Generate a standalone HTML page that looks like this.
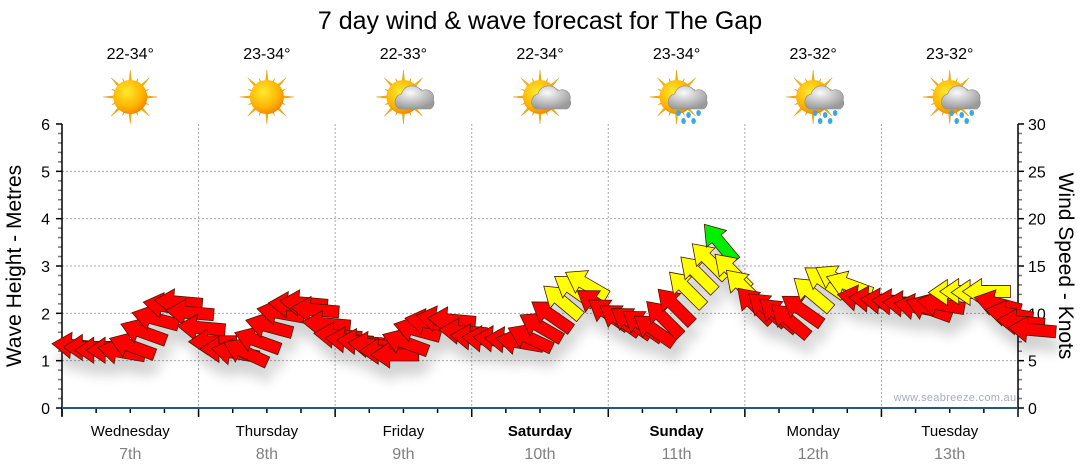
<!DOCTYPE html>
<html><head><meta charset="utf-8">
<style>
html,body{margin:0;padding:0;background:#fff;}
svg{display:block;font-family:"Liberation Sans",sans-serif;}
</style></head>
<body>
<svg id="chart" width="1080" height="475" viewBox="0 0 1080 475" xmlns="http://www.w3.org/2000/svg">
<defs>
<radialGradient id="sunG" cx="40%" cy="35%" r="65%"><stop offset="0" stop-color="#ffe930"/><stop offset="0.7" stop-color="#ffb400"/><stop offset="1" stop-color="#f08c00"/></radialGradient>
<radialGradient id="cloudG" cx="40%" cy="30%" r="70%"><stop offset="0" stop-color="#fafafa"/><stop offset="1" stop-color="#9a9a9a"/></radialGradient>
<filter id="shadow" x="-30%" y="-30%" width="160%" height="200%"><feGaussianBlur in="SourceAlpha" stdDeviation="6"/><feOffset dx="4" dy="14"/><feComponentTransfer><feFuncA type="linear" slope="0.18"/></feComponentTransfer><feMerge><feMergeNode/><feMergeNode in="SourceGraphic"/></feMerge></filter>
</defs>
<text x="540" y="29" font-size="25" text-anchor="middle" fill="#000">7 day wind &amp; wave forecast for The Gap</text>
<g id="grid"></g>
<g id="axes"></g>
<g id="icons"></g>
<text x="955" y="401" font-size="11" fill="#a8adbb" text-anchor="middle" letter-spacing="0.3">www.seabreeze.com.au</text>
<g id="arrows" filter="url(#shadow)"></g>
<text transform="translate(21,266) rotate(-90)" font-size="21" text-anchor="middle">Wave Height - Metres</text>
<text transform="translate(1059,266) rotate(90)" font-size="21" text-anchor="middle">Wind Speed - Knots</text>
</svg>
<script>
const days = ["Wednesday","Thursday","Friday","Saturday","Sunday","Monday","Tuesday"];
const dates = ["7th","8th","9th","10th","11th","12th","13th"];
const boldDays = [false,false,false,true,true,false,false];
const temps = ["22-34°","23-34°","22-33°","22-34°","23-34°","23-32°","23-32°"];
const weather = ["sun","sun","cloud","cloud","rain","rain","rain"];
const waveTicks = [0,1,2,3,4,5,6];
const windTicks = [0,5,10,15,20,25,30];
// wind speed (knots), 2-hourly
const windSpeed = [6.7,6.4,6.1,6.1,6.2,7.0,8.5,9.8,11.0,11.3,10.2,8.6,
 7.0,6.2,6.1,6.5,7.6,9.0,10.3,11.0,11.2,10.5,9.0,7.8,
 7.3,7.1,6.8,6.0,5.6,7.4,8.6,9.3,9.6,9.4,8.2,7.6,
 7.4,7.4,7.3,7.2,8.0,9.3,10.6,12.2,13.3,13.8,11.8,10.8,
 10.2,9.9,9.6,9.1,10.5,11.8,13.6,15.2,16.6,18.6,15.5,13.8,
 11.9,11.4,10.8,10.2,11.2,13.0,14.2,14.3,13.5,11.8,11.6,11.4,
 11.3,11.1,10.9,11.0,11.2,12.2,12.3,12.2,12.3,11.4,10.2,9.2,8.4];
// wind direction (compass degrees, blowing from)
const windDir = [95,90,90,90,100,110,110,105,100,95,95,95,
 90,90,100,115,110,105,100,95,95,95,95,95,
 95,95,95,90,90,110,105,100,100,95,95,95,
 95,95,95,100,115,120,125,130,125,120,125,125,
 125,125,125,125,135,135,135,135,135,140,135,135,
 135,130,130,130,125,130,125,120,110,100,95,95,
 95,95,100,110,100,90,90,90,90,105,100,95,95];

const X0=62, X1=1018, Y0=408, Y1=124;
const dayW=(X1-X0)/7;
const NS="http://www.w3.org/2000/svg";
function el(tag,attrs,parent){const e=document.createElementNS(NS,tag);for(const k in attrs)e.setAttribute(k,attrs[k]);parent.appendChild(e);return e;}
function xDay(d){return X0+d*dayW;}
function xIdx(i){return X0+i*dayW/12;}
function yWave(v){return Y0-(v/6)*(Y0-Y1);}
function yWind(v){return Y0-(v/30)*(Y0-Y1);}
const grid=document.getElementById('grid'), axes=document.getElementById('axes'), icons=document.getElementById('icons'), arrows=document.getElementById('arrows');

waveTicks.forEach(v=>{
  const y=yWave(v);
  if(v>0&&v<6){const g=el('line',{x1:X0,x2:X1,y1:y,y2:y,stroke:'#aaa','stroke-dasharray':'2,2'},grid);
  
  }
  const t=el('text',{x:X0-12,y:y+6,'font-size':16,'text-anchor':'end'},axes);t.textContent=v;
  
  
});
windTicks.forEach(v=>{
  const t=el('text',{x:X1+10,y:yWind(v)+6,'font-size':16},axes);t.textContent=v;
  
  
});
for(let k=0;k<=30;k++){
  const y=yWind(k);const big=k%5===0;
  el('line',{x1:X0-(big?6:4),x2:X0,y1:y,y2:y,stroke:big?'#000':'#777','stroke-width':1.5},axes);
  el('line',{x1:X1,x2:X1+(big?6:4),y1:y,y2:y,stroke:big?'#000':'#777','stroke-width':1.5},axes);
}
el('line',{x1:X0,x2:X0,y1:Y1,y2:Y0+8,stroke:'#000','stroke-width':1.5},axes);
el('line',{x1:X1,x2:X1,y1:Y1,y2:Y0,stroke:'#000','stroke-width':1.5},axes);
for(let d=1;d<7;d++){
  const g=el('line',{x1:xDay(d),x2:xDay(d),y1:Y1,y2:Y0,stroke:'#aaa','stroke-dasharray':'2,2'},grid);
  
  
}
for(let q=0;q<=28;q++){
  const x=X0+q*dayW/4;const big=q%4===0;
  el('line',{x1:x,x2:x,y1:Y0,y2:Y0+(big?9:5),stroke:'#000','stroke-width':1.5},axes);
}
const xa=el('line',{x1:X0,x2:X1,y1:Y0,y2:Y0,stroke:'#1d5a85','stroke-width':2},axes);



days.forEach((d,i)=>{
  const cx=xDay(i)+dayW/2;
  const t=el('text',{x:cx,y:436,'font-size':15,'text-anchor':'middle','font-weight':boldDays[i]?'bold':'normal'},axes);t.textContent=d;
  
  
  const t2=el('text',{x:cx,y:459,'font-size':16,'text-anchor':'middle',fill:'#808080'},axes);t2.textContent=dates[i];
  
  
  const t3=el('text',{x:cx,y:59,'font-size':16,'text-anchor':'middle'},icons);t3.textContent=temps[i];
  
  
  const g=el('g',{transform:`translate(${cx},${97})`},icons);
  
  
  for(let r=0;r<16;r++){
    const a=r*22.5;const L=r%2===0?27:20;
    el('polygon',{points:`-3,0 3,0 0,-${L}`,fill:'#f4b400',stroke:'#d89000','stroke-width':0.4,transform:`rotate(${a})`},g);
  }
  el('circle',{r:17,fill:'url(#sunG)'},g);
  if(weather[i]!=='sun'){
    el('path',{d:'M-4,12 a8,8 0 0 1 2,-15 a11,11 0 0 1 20,-3 a8,8 0 0 1 12,9 a7,7 0 0 1 -3,9 z',fill:'url(#cloudG)',stroke:'#888','stroke-width':0.6},g);
  }
  if(weather[i]==='rain'){
    [[2,16],[12,18],[22,16],[7,24],[17,24]].forEach(p=>el('ellipse',{cx:p[0],cy:p[1],rx:2.3,ry:3,fill:'#3ba6e8'},g));
  }
});

windSpeed.forEach((v,i)=>{
  const x=xIdx(i), y=yWind(v);
  const col=v>=18?'#00ee00':(v>=12?'#ffff00':'#ff0000');
  const ang=windDir[i]+90;
  const p=el('polygon',{points:'10,0 -9,-13 -9,-6 -38,-6 -38,6 -9,6 -9,13',fill:col,stroke:'#4a1a00','stroke-width':0.8,'stroke-linejoin':'miter',transform:`translate(${x},${y}) rotate(${ang})`},arrows);
  
  
});
</script>
</body></html>
